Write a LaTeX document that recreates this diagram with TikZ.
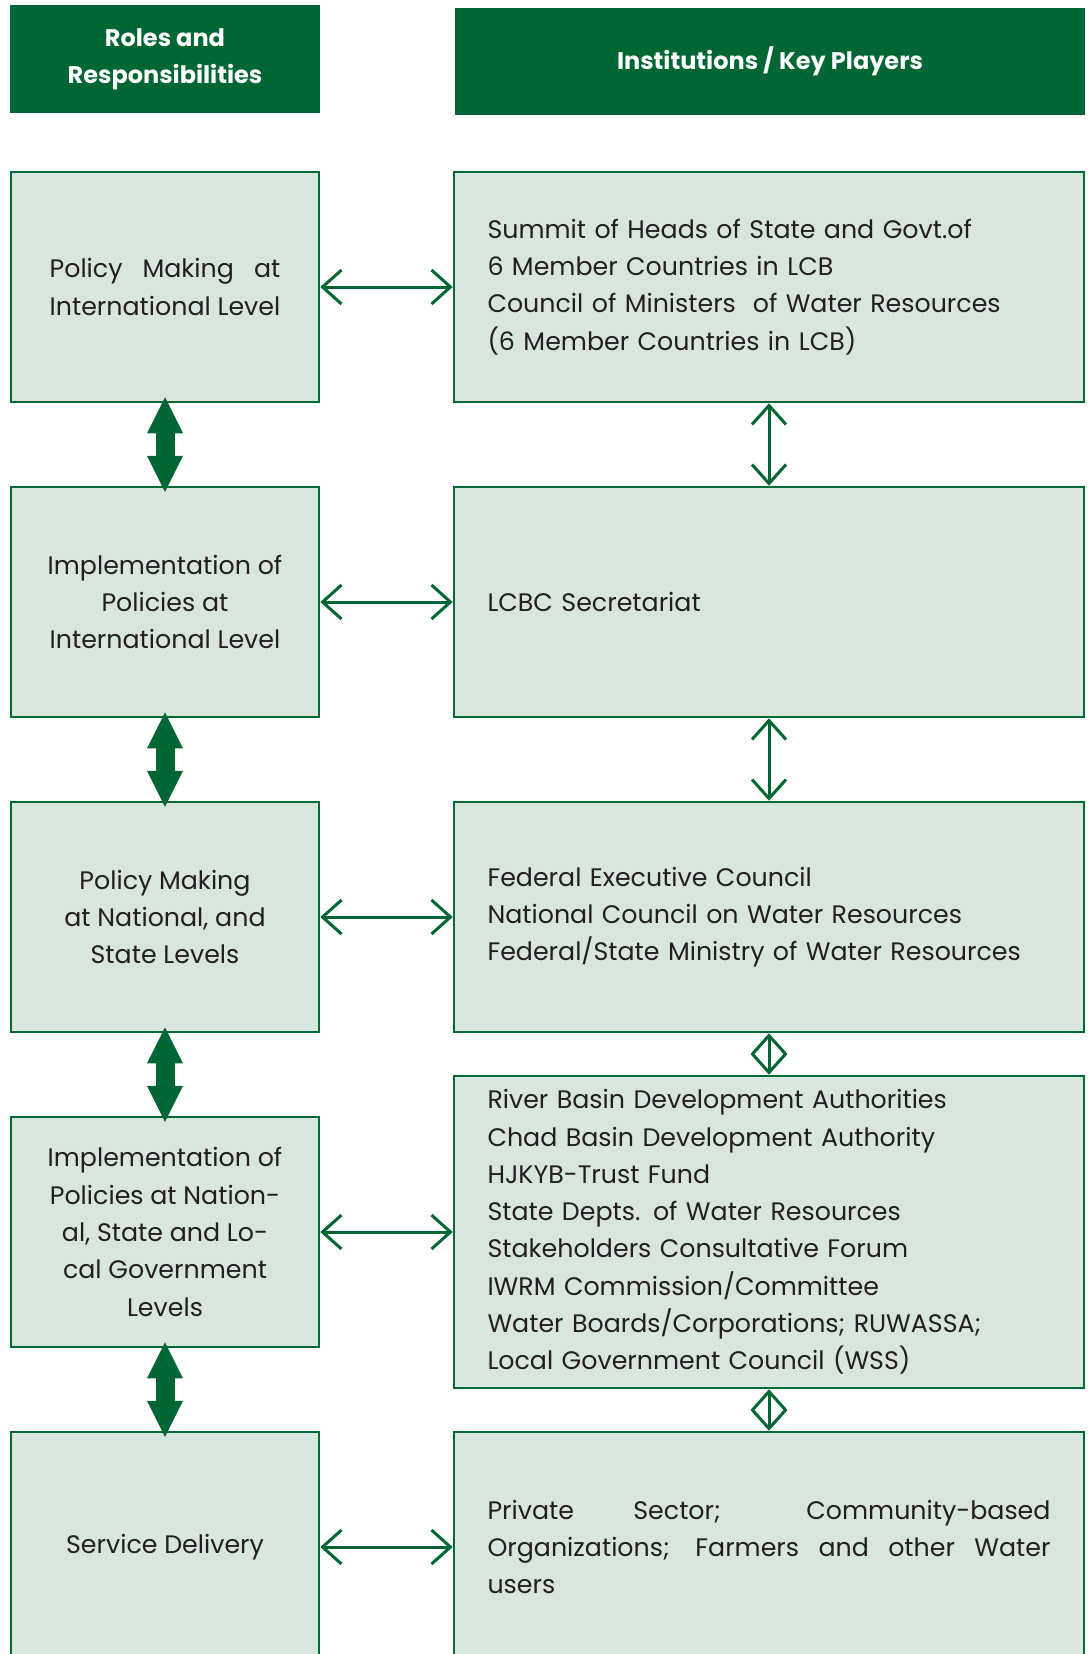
\documentclass[tikz,border=0pt]{standalone}
\usepackage{fontspec}
\setmainfont{Poppins}
\usepackage{calc}
\usetikzlibrary{positioning,arrows.meta}
\definecolor{headgreen}{RGB}{0,102,51}
\definecolor{boxgreen}{RGB}{217,230,221}
\definecolor{linegreen}{RGB}{0,106,52}
\definecolor{textgrey}{RGB}{35,31,32}
\newcommand{\spreadline}[1]{\makebox[563pt][s]{\spaceskip=0pt #1}}

\begin{document}
\begin{tikzpicture}[x=1pt,y=-1pt,on grid,node distance=315pt and 604pt,
head/.style={fill=headgreen,text=white,align=center,inner sep=0pt,
  font=\bfseries\fontsize{24}{37}\selectfont},
role/.style={draw=linegreen,line width=2.5pt,fill=boxgreen,text=textgrey,
  minimum width=308pt,minimum height=230pt,align=center,inner sep=0pt,
  font=\fontsize{25.3}{37.3}\selectfont},
player/.style={role,minimum width=630pt,text width=563pt,align=left},
bigarrow/.style={draw=headgreen,line width=19pt,shorten <=-6pt,shorten >=-6pt,
  {Triangle[width=36pt,length=36pt,line width=0pt]}-{Triangle[width=36pt,length=36pt,line width=0pt]}},
smallarrow/.style={draw=headgreen,line width=3pt,
  {Straight Barb[width=34pt,length=19pt]}-{Straight Barb[width=34pt,length=19pt]}}]
\clip (0,0) rectangle (1087,1654);
\fill[white] (0,0) rectangle (1087,1654);

% headers
\node[head,minimum width=310pt,minimum height=108pt] (hroles) at (165,59) {Roles and\\Responsibilities};
\node[head,minimum width=630pt,minimum height=107pt] (hplayers) at (770,61.5) {Institutions / Key Players};

% left column
\node[role] (polint) at (165,287) {\makebox[\widthof{International Level}][s]{Policy Making at}\\International Level};
\node[role] (impint) [below=of polint] {Implementation of\\Policies at\\International Level};
\node[role] (polnat) [below=of impint] {Policy Making\\at National, and\\State Levels};
\node[role] (impnat) [below=of polnat] {Implementation of\\Policies at Nation-\\al, State and Lo-\\cal Government\\Levels};
\node[role] (service) [below=of impnat] {Service Delivery};

% right column
\node[player] (summit) [right=of polint] {Summit of Heads of State and Govt.of\\6 Member Countries in LCB\\Council of Ministers\ \ of Water Resources\\(6 Member Countries in LCB)};
\node[player] (lcbc) [right=of impint] {LCBC Secretariat};
\node[player] (federal) [right=of polnat] {Federal Executive Council\\National Council on Water Resources\\Federal/State Ministry of Water Resources};
\node[player,minimum height=312pt] (basin) [right=of impnat] {River Basin Development Authorities\\Chad Basin Development Authority\\HJKYB-Trust Fund\\State Depts. of Water Resources\\Stakeholders Consultative Forum\\IWRM Commission/Committee\\Water Boards/Corporations; RUWASSA;\\Local Government Council (WSS)};
\node[player] (private) [right=of service] {\spreadline{Private Sector; Community-based}\\\spreadline{Organizations; Farmers and other Water}\\users};

% arrows
\draw[bigarrow] (polint) -- (impint);
\draw[bigarrow] (impint) -- (polnat);
\draw[bigarrow] (polnat) -- (impnat);
\draw[bigarrow] (impnat) -- (service);
\draw[smallarrow] (summit) -- (lcbc);
\draw[smallarrow] (lcbc) -- (federal);
\draw[smallarrow] (federal) -- (basin);
\draw[smallarrow] (basin) -- (private);
\draw[smallarrow] (polint) -- (summit);
\draw[smallarrow] (impint) -- (lcbc);
\draw[smallarrow] (polnat) -- (federal);
\draw[smallarrow] (impnat) -- (basin);
\draw[smallarrow] (service) -- (private);
\end{tikzpicture}
\end{document}
